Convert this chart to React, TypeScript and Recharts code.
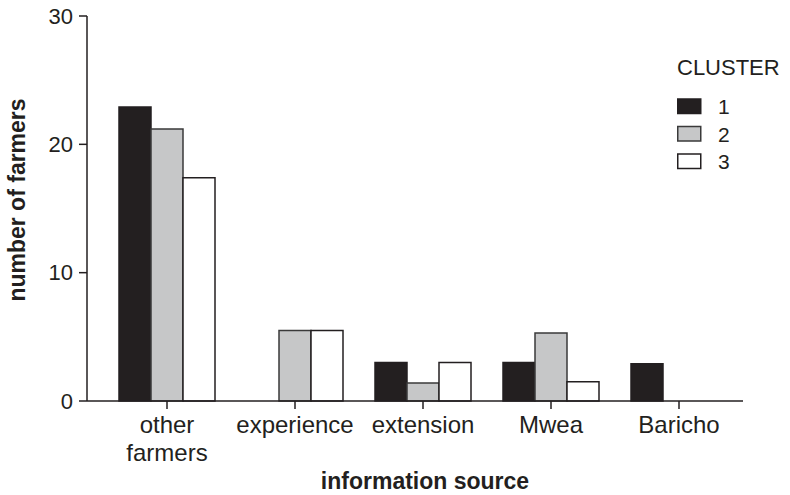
import React from "react";
import { BarChart, Bar, XAxis, YAxis, Legend } from "recharts";

// Where farmers get their information, counts per cluster
const sources = ["other farmers", "experience", "extension", "Mwea", "Baricho"];
const cluster1 = [22.9, 0, 3.0, 3.0, 2.9];
const cluster2 = [21.2, 5.5, 1.4, 5.3, 0];
const cluster3 = [17.4, 5.5, 3.0, 1.5, 0];
const yTicks = [0, 10, 20, 30];

const clusters = [
  { key: "c1", name: "1", fill: "#231f20", stroke: "#231f20" },
  { key: "c2", name: "2", fill: "#c6c7c8", stroke: "#3a3a3a" },
  { key: "c3", name: "3", fill: "#ffffff", stroke: "#231f20" },
];

const data = sources.map((source, i) => ({
  source,
  c1: cluster1[i],
  c2: cluster2[i],
  c3: cluster3[i],
}));

const FONT = '"Liberation Sans", Arial, Helvetica, sans-serif';
const INK = "#231f20";

function CategoryTick(props: any) {
  const { x, y, payload } = props;
  const lines = String(payload.value).split(" ");
  // only "other farmers" wraps onto two lines
  const parts = lines.length > 1 ? lines : [payload.value];
  return (
    <text x={x} y={y} textAnchor="middle" fontSize={24} fill={INK} fontFamily={FONT}>
      {parts.map((p: string, i: number) => (
        <tspan key={i} x={x} dy={i === 0 ? 22 : 28}>
          {p}
        </tspan>
      ))}
    </text>
  );
}

function ClusterLegend() {
  return (
    <svg width={113} height={130} style={{ overflow: "visible" }}>
      <text x={0} y={25} fontSize={22} fill={INK} fontFamily={FONT}>
        CLUSTER
      </text>
      {clusters.map((c, i) => {
        const top = 49 + i * 27.5;
        return (
          <g key={c.key}>
            <rect x={0.75} y={top} width={23} height={14.5} fill={c.fill} stroke={c.stroke} strokeWidth={1.5} />
            <text x={41} y={top + 15} fontSize={21} fill={INK} fontFamily={FONT}>
              {c.name}
            </text>
          </g>
        );
      })}
    </svg>
  );
}

export default function App() {
  return (
    <div style={{ position: "absolute", left: 0, top: 0, width: 790, height: 495, background: "#fff" }}>
      <BarChart
        width={790}
        height={495}
        data={data}
        margin={{ top: 16, right: 47, bottom: 0, left: 0 }}
        barCategoryGap={16}
        barGap={0}
      >
        <XAxis
          dataKey="source"
          interval={0}
          padding={{ left: 16, right: 0 }}
          tickSize={8}
          tickMargin={2}
          axisLine={{ stroke: INK, strokeWidth: 1.5 }}
          tickLine={{ stroke: INK, strokeWidth: 1.5 }}
          tick={<CategoryTick />}
          height={94}
          label={{
            value: "information source",
            position: "insideBottom",
            offset: 6,
            dx: 10,
            style: { fontFamily: FONT, fontSize: 23, fontWeight: "bold", fill: INK },
          }}
        />
        <YAxis
          width={87}
          domain={[0, 30]}
          ticks={yTicks}
          tickSize={8}
          tickMargin={6}
          axisLine={{ stroke: INK, strokeWidth: 1.5 }}
          tickLine={{ stroke: INK, strokeWidth: 1.5 }}
          tick={{ fontSize: 22, fill: INK, fontFamily: FONT }}
          label={{
            content: () => (
              <text
                transform="translate(25,200) rotate(-90)"
                textAnchor="middle"
                fontSize={23}
                fontWeight="bold"
                fill={INK}
                fontFamily={FONT}
              >
                number of farmers
              </text>
            ),
          }}
        />
        <Legend
          layout="horizontal"
          align="center"
          verticalAlign="middle"
          content={<ClusterLegend />}
          wrapperStyle={{ left: 677, top: 50, width: 113, height: 130 }}
        />
        {clusters.map((c) => (
          <Bar
            key={c.key}
            dataKey={c.key}
            name={c.name}
            fill={c.fill}
            stroke={c.stroke}
            strokeWidth={1.5}
            isAnimationActive={false}
          />
        ))}
      </BarChart>
    </div>
  );
}
